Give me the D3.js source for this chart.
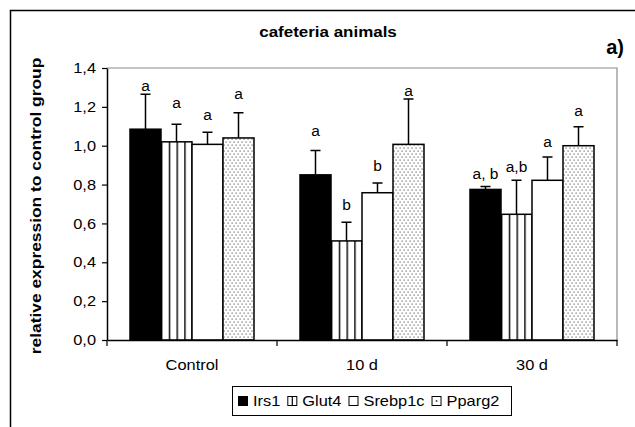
<!DOCTYPE html>
<html>
<head>
<meta charset="utf-8">
<script src="https://cdn.jsdelivr.net/npm/d3@7"></script>
<style>
  body { margin: 0; background: #fff; }
  text { font-family: "Liberation Sans", Arial, sans-serif; }
</style>
</head>
<body>
<script>
const categories = ["Control", "10 d", "30 d"];
const genes = ["Irs1", "Glut4", "Srebp1c", "Pparg2"];

// mean relative expression per gene (Control, 10 d, 30 d)
const irs1 = [1.085, 0.85, 0.775];
const glut4 = [1.02, 0.51, 0.647];
const srebp1c = [1.007, 0.758, 0.822];
const pparg2 = [1.04, 1.007, 1.0];

// upper error (SD)
const irs1Err = [0.18, 0.125, 0.015];
const glut4Err = [0.09, 0.096, 0.175];
const srebp1cErr = [0.062, 0.05, 0.12];
const pparg2Err = [0.13, 0.233, 0.098];

// significance letters and where they sit (in y units)
const irs1Lbl = ["a", "a", "a, b"];
const glut4Lbl = ["a", "b", "a,b"];
const srebp1cLbl = ["a", "b", "a"];
const pparg2Lbl = ["a", "a", "a"];
const irs1LblY = [1.307, 1.076, 0.854];
const glut4LblY = [1.22, 0.695, 0.89];
const srebp1cLblY = [1.158, 0.896, 1.019];
const pparg2LblY = [1.266, 1.282, 1.179];

const yTicks = [0, 0.2, 0.4, 0.6, 0.8, 1.0, 1.2, 1.4];

const series = [
  { name: genes[0], vals: irs1, err: irs1Err, lbl: irs1Lbl, lblY: irs1LblY, fill: "#000" },
  { name: genes[1], vals: glut4, err: glut4Err, lbl: glut4Lbl, lblY: glut4LblY, fill: "url(#stripes)" },
  { name: genes[2], vals: srebp1c, err: srebp1cErr, lbl: srebp1cLbl, lblY: srebp1cLblY, fill: "#fff" },
  { name: genes[3], vals: pparg2, err: pparg2Err, lbl: pparg2Lbl, lblY: pparg2LblY, fill: "url(#dots)" }
];

const W = 635, H = 427;
const plot = { left: 107, right: 617, top: 68, bottom: 340 };
const FS = 14.5;

// the original lettering is wider than Arial: stretch glyphs horizontally
const wide = (sel, k) => {
  sel.each(function () {
    const t = d3.select(this);
    const x = +t.attr("x") || 0;
    const tr = t.attr("transform") || "";
    t.attr("x", x / k).attr("transform", tr + ` scale(${k},1)`);
  });
};

const svg = d3.select("body").append("svg")
  .attr("width", W)
  .attr("height", H);

const defs = svg.append("defs");
const stripes = defs.append("pattern")
  .attr("id", "stripes")
  .attr("patternUnits", "objectBoundingBox")
  .attr("width", 0.25).attr("height", 1);
stripes.append("rect").attr("width", 40).attr("height", 400).attr("fill", "#fff");
stripes.append("rect").attr("x", 0).attr("width", 1.4).attr("height", 400).attr("fill", "#000");

const dots = defs.append("pattern")
  .attr("id", "dots")
  .attr("patternUnits", "userSpaceOnUse")
  .attr("width", 4).attr("height", 6);
dots.append("rect").attr("width", 4).attr("height", 6).attr("fill", "#fff");
dots.append("rect").attr("x", 0.5).attr("y", 0.5).attr("width", 1.2).attr("height", 1.2).attr("fill", "#666");
dots.append("rect").attr("x", 2.5).attr("y", 3.5).attr("width", 1.2).attr("height", 1.2).attr("fill", "#666");

// outer frame (runs off the right and bottom edges)
svg.append("rect")
  .attr("x", 10.5).attr("y", 10.5)
  .attr("width", 700).attr("height", 500)
  .attr("fill", "none").attr("stroke", "#000").attr("stroke-width", 1.5);

const x0 = d3.scaleBand()
  .domain(categories)
  .range([plot.left, plot.right]);
const x1 = d3.scaleBand()
  .domain(genes)
  .range([23, x0.bandwidth() - 23]);
const y = d3.scaleLinear()
  .domain([0, 1.4])
  .range([plot.bottom, plot.top]);

// gray plot border (top and right)
svg.append("path")
  .attr("d", `M${plot.left},${plot.top}H${plot.right}V${plot.bottom}`)
  .attr("fill", "none").attr("stroke", "#8c8c8c").attr("stroke-width", 1.2);

const groups = svg.selectAll(".grp")
  .data(series)
  .enter().append("g")
  .attr("class", "grp");

const pts = groups.selectAll("g")
  .data(s => categories.map((c, i) => ({ s, c, v: s.vals[i], e: s.err[i], l: s.lbl[i], ly: s.lblY[i] })))
  .enter().append("g")
  .attr("transform", d => `translate(${x0(d.c) + x1(d.s.name)},0)`);

pts.append("rect")
  .attr("x", 0)
  .attr("y", d => y(d.v))
  .attr("width", x1.bandwidth())
  .attr("height", d => y(0) - y(d.v))
  .attr("fill", d => d.s.fill)
  .attr("stroke", "#000")
  .attr("stroke-width", 1.5);

const bw = x1.bandwidth();
pts.append("path")
  .attr("d", d => `M${bw / 2},${y(d.v)}V${y(d.v + d.e)}M${bw / 2 - 5},${y(d.v + d.e)}H${bw / 2 + 5}`)
  .attr("stroke", "#000").attr("stroke-width", 1.5).attr("fill", "none");

pts.append("text")
  .attr("x", bw / 2)
  .attr("y", d => y(d.ly))
  .attr("dy", "0.35em")
  .attr("text-anchor", "middle")
  .attr("font-size", FS)
  .text(d => d.l)
  .call(wide, 1.07);

// y axis
const yAxis = d3.axisLeft(y)
  .tickValues(yTicks)
  .tickSize(5)
  .tickSizeOuter(0)
  .tickPadding(6)
  .tickFormat(d => d3.format(".1f")(d).replace(".", ","));
const gy = svg.append("g")
  .attr("transform", `translate(${plot.left},0)`)
  .call(yAxis);
gy.select(".domain").attr("stroke-width", 1.5);
gy.selectAll(".tick line").attr("stroke-width", 1.2);
gy.selectAll("text").attr("font-size", FS).attr("fill", "#000")
  .attr("font-family", "Liberation Sans, Arial, sans-serif")
  .call(wide, 1.13);

// x axis: labels centred, ticks at category boundaries
const xAxis = d3.axisBottom(x0).tickSize(0).tickPadding(20);
const gx = svg.append("g")
  .attr("transform", `translate(0,${plot.bottom})`)
  .call(xAxis);
gx.select(".domain").attr("stroke-width", 1.5);
gx.selectAll("text").attr("font-size", FS).attr("fill", "#000")
  .attr("font-family", "Liberation Sans, Arial, sans-serif")
  .call(wide, 1.13);
gx.selectAll(".bound")
  .data([...categories.map(c => x0(c)), plot.right])
  .enter().append("line")
  .attr("class", "bound")
  .attr("x1", d => d).attr("x2", d => d)
  .attr("y1", 0).attr("y2", 6)
  .attr("stroke", "#000").attr("stroke-width", 1.2);

// title
svg.append("text")
  .attr("x", 328).attr("y", 37)
  .attr("text-anchor", "middle")
  .attr("font-size", FS).attr("font-weight", "bold")
  .text("cafeteria animals")
  .call(wide, 1.17);

svg.append("text")
  .attr("x", 624).attr("y", 54)
  .attr("text-anchor", "end")
  .attr("font-family", "Liberation Serif, Times New Roman, serif")
  .attr("font-size", 20).attr("font-weight", "bold")
  .text("a)");

// y title
svg.append("text")
  .attr("transform", `translate(41,${(plot.top + plot.bottom) / 2 + 2}) rotate(-90)`)
  .attr("text-anchor", "middle")
  .attr("font-size", FS).attr("font-weight", "bold")
  .text("relative expression  to control group")
  .call(wide, 1.2);

// legend
const legend = svg.append("g").attr("transform", "translate(232,386)");
legend.append("rect")
  .attr("x", 0.5).attr("y", 0.5)
  .attr("width", 279).attr("height", 29)
  .attr("fill", "#fff").attr("stroke", "#000").attr("stroke-width", 1);
let lx = 6;
series.forEach(s => {
  const item = legend.append("g").attr("transform", `translate(${lx},0)`);
  item.append("rect")
    .attr("x", 0.5).attr("y", 10.5)
    .attr("width", 9).attr("height", 9)
    .attr("fill", s.name === "Irs1" ? s.fill : "#fff")
    .attr("stroke", "#000").attr("stroke-width", 1);
  if (s.name === "Glut4") {
    item.append("line").attr("x1", 5).attr("x2", 5).attr("y1", 10.5).attr("y2", 19.5)
      .attr("stroke", "#000").attr("stroke-width", 1.2);
  }
  if (s.name === "Pparg2") {
    item.append("rect").attr("x", 4.2).attr("y", 14.2).attr("width", 1.6).attr("height", 1.6).attr("fill", "#333");
  }
  const t = item.append("text")
    .attr("x", 15).attr("y", 20)
    .attr("font-size", FS)
    .text(s.name);
  const len = t.node().getComputedTextLength() * 1.13;
  t.call(wide, 1.13);
  lx += 15 + len + 7;
});
</script>
</body>
</html>
